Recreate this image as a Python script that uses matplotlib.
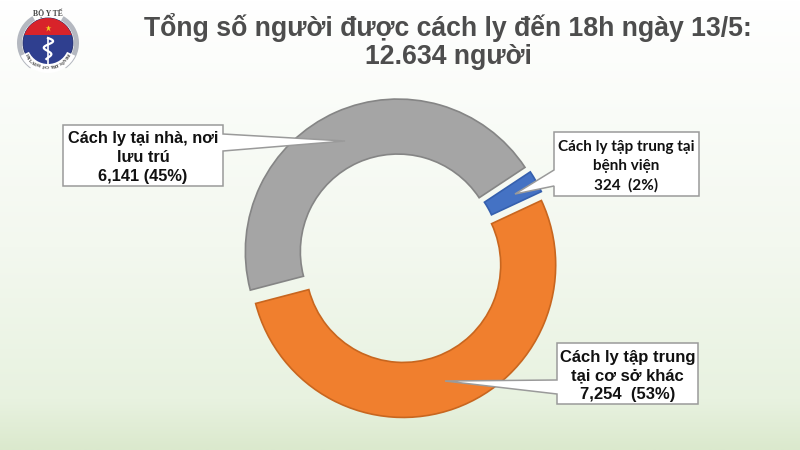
import numpy as np
import matplotlib
matplotlib.use("Agg")
import matplotlib.pyplot as plt
from matplotlib.patches import Polygon, Circle, Wedge, Rectangle

title_lines = ["Tổng số người được cách ly đến 18h ngày 13/5:", "12.634 người"]
categories = ["Cách ly tại nhà, nơi\nlưu trú\n6,141 (45%)",
              "Cách ly tập trung\ntại cơ sở khác\n7,254  (53%)",
              "Cách ly tập trung tại\nbệnh viện\n324  (2%)"]
values = [6141, 7254, 324]
colors = ["#a5a5a5", "#f07f2e", "#4472c4"]
edges = ["#858585", "#c8661f", "#3560ae"]

W, H = 800, 450
fig = plt.figure(figsize=(8, 4.5), dpi=100)
ax = fig.add_axes([0, 0, 1, 1])

wedges, _ = ax.pie(values, colors=colors, startangle=33.5, counterclock=True,
                   radius=152.5, center=(400.5, 192.5), explode=[6.5, 7.9, 3],
                   wedgeprops=dict(width=55, linewidth=1.2), frame=True)
for w, e in zip(wedges, edges):
    w.set_edgecolor(e)
    w.set_zorder(2)

ax.set_xlim(0, W)
ax.set_ylim(0, H)
ax.set_aspect("auto")
ax.axis("off")

# background gradient, white at the top to pale green at the bottom
t_g = np.linspace(0, 1, 256)
stops = [0, 0.55, 0.89, 1]
stop_rgb = np.array([[255, 255, 255], [243, 248, 239], [232, 242, 224], [219, 233, 205]]) / 255
img = np.stack([np.interp(t_g, stops, stop_rgb[:, i]) for i in range(3)], axis=1)[:, None, :]
ax.imshow(img, extent=(0, W, 0, H), aspect="auto", zorder=0, origin="upper")
ax.set_xlim(0, W)
ax.set_ylim(0, H)


def Y(y):
    return H - y


def callout(x0, y0, x1, y1, tip, base, side, text, font, size, dy=0, ls=1.3):
    if side == "right":
        pts = [(x0, y0), (x1, y0), (x1, base[0]), tip, (x1, base[1]), (x1, y1), (x0, y1)]
    else:
        pts = [(x0, y0), (x1, y0), (x1, y1), (x0, y1), (x0, base[1]), tip, (x0, base[0])]
    ax.add_patch(Polygon([(a, Y(b)) for a, b in pts], closed=True, fc="white",
                         ec="#9a9a9a", lw=1.1, zorder=3))
    ax.text((x0 + x1) / 2, Y((y0 + y1) / 2 + dy), text, ha="center", va="center",
            family=font, weight="bold", fontsize=size, color="#111111", zorder=4,
            linespacing=ls)


callout(63, 125, 223, 186, (345, 141), (134, 151), "right", categories[0], "Liberation Sans", 11.8, dy=2)
callout(554, 132, 699, 196, (515, 194), (170, 186), "left", categories[2], "Lato", 11, dy=2, ls=1.45)
callout(557, 343, 698, 404, (445, 381), (380, 394), "left", categories[1], "Liberation Sans", 12, dy=2.5)

# title
for line, yy in zip(title_lines, (27, 57)):
    ax.text(448, Y(yy), line, ha="center", va="center", family="Liberation Sans",
            weight="bold", fontsize=19.2, color="#4d4d4d", zorder=4)

# logo
lx, ly = 48, Y(43)
ax.add_patch(Wedge((lx, ly), 31, -55, 60, width=5, fc="#b4b8c0", ec="none", zorder=4))
ax.add_patch(Wedge((lx, ly), 31, 120, 235, width=5, fc="#b4b8c0", ec="none", zorder=4))
ax.add_patch(Circle((lx, ly), 25, fc="#2f3f8f", ec="#1f2a66", lw=0.6, zorder=5))
red = Rectangle((lx - 26, ly + 8), 52, 20, fc="#d8232a", ec="none", zorder=6)
ax.add_patch(red)
red.set_clip_path(Circle((lx, ly), 25, transform=ax.transData))
ax.plot([lx], [ly + 15], marker="*", ms=5, color="#f6d21f", mec="none", zorder=7)
ax.plot([lx, lx], [ly + 5, ly - 21], color="white", lw=1.2, zorder=7, solid_capstyle="round")
t = np.linspace(0, 1, 60)
ax.plot(lx + 5.5 * np.sin(t * 3.2 * np.pi) * (1 - 0.5 * t), ly + 5 - 21 * t, color="white", lw=1.6, zorder=7)
ax.add_patch(Wedge((lx, ly), 30, 205, 335, width=9, fc="white", ec="none", zorder=7))
ax.text(lx, Y(13.5), "BỘ Y TẾ", ha="center", va="center", family="Liberation Serif",
        weight="bold", fontsize=5.5, color="#444444", zorder=8)
label = "MINISTRY OF HEALTH"
angs = np.linspace(212, 328, len(label))[::-1]
for ch, a in zip(label, angs):
    r = 25.5
    ax.text(lx + r * np.cos(np.radians(a)), ly + r * np.sin(np.radians(a)), ch, ha="center", va="center",
            rotation=a + 90, family="Liberation Serif", weight="bold",
            fontsize=3.6, color="#333333", zorder=9)

fig.savefig("out.png", dpi=100)
